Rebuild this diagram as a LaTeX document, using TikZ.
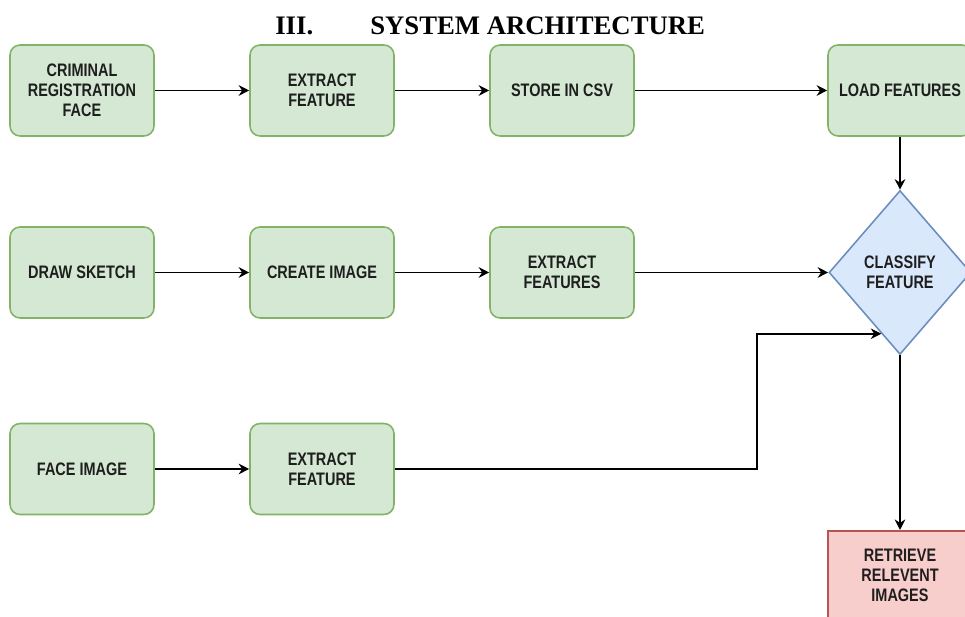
\documentclass[tikz,border=0pt]{standalone}
\usepackage{fontspec}
\setmainfont{Liberation Serif}
\newfontfamily\boxfont{Liberation Sans}[FakeStretch=0.8]
\usepackage{tikz}
\usetikzlibrary{shapes.geometric, arrows.meta, calc}
\definecolor{boxGreen}{RGB}{213, 232, 212}
\definecolor{lineGreen}{RGB}{130, 179, 102}
\definecolor{boxBlue}{RGB}{218, 232, 252}
\definecolor{lineBlue}{RGB}{108, 142, 191}
\definecolor{boxRed}{RGB}{248, 206, 204}
\definecolor{lineRed}{RGB}{184, 84, 80}
\definecolor{inkGray}{RGB}{30, 30, 30}

\begin{document}
\begin{tikzpicture}[x=0.02cm, y=-0.02cm,
    stage/.style={draw=lineGreen, fill=boxGreen, line width=0.9pt, rounded corners=0.2cm,
      minimum width=2.88cm, minimum height=1.82cm, align=center, text=inkGray,
      font=\boxfont\bfseries\fontsize{10.3}{11.4}\selectfont},
    decide/.style={diamond, draw=lineBlue, fill=boxBlue, line width=0.9pt, inner sep=0pt,
      minimum width=2.84cm, minimum height=3.28cm, align=center, text=inkGray,
      font=\boxfont\bfseries\fontsize{10.3}{11.4}\selectfont},
    result/.style={draw=lineRed, fill=boxRed, line width=0.9pt,
      minimum width=2.88cm, minimum height=1.8cm, align=center, text=inkGray,
      font=\boxfont\bfseries\fontsize{10.3}{11.4}\selectfont},
    arr/.style={-{Stealth[length=6pt, width=6pt]}, line width=0.9pt}]
      \useasboundingbox (0,0) rectangle (965,617);
      \clip (0,0) rectangle (965,617);

      \node[anchor=base west, inner sep=0pt, font=\bfseries\fontsize{15.2}{18}\selectfont] (num) at (275,35) {III.};
      \node[anchor=base west, inner sep=0pt, font=\bfseries\fontsize{15.2}{18}\selectfont] (title) at (370,35) {SYSTEM ARCHITECTURE};

      % first row
      \node[stage] (crim) at (82,90.5) {CRIMINAL\\REGISTRATION\\FACE};
      \node[stage] (ext1) at (322,90.5) {EXTRACT\\FEATURE};
      \node[stage] (csv) at (562,90.5) {STORE IN CSV};
      \node[stage] (load) at (900,90.5) {LOAD FEATURES};

      % second row
      \node[stage] (sketch) at (82,272.5) {DRAW SKETCH};
      \node[stage] (create) at (322,272.5) {CREATE IMAGE};
      \node[stage] (ext2) at (562,272.5) {EXTRACT\\FEATURES};
      \node[decide] (classify) at (900,272.5) {CLASSIFY\\FEATURE};

      % third row
      \node[stage] (face) at (82,469) {FACE IMAGE};
      \node[stage] (ext3) at (322,469) {EXTRACT\\FEATURE};
      \node[result, anchor=north] (retrieve) at (900,530) {RETRIEVE\\RELEVENT\\IMAGES};

      \draw[arr] (crim) -- (ext1);
      \draw[arr] (ext1) -- (csv);
      \draw[arr] (csv) -- (load);
      \draw[arr] (load) -- (classify);

      \draw[arr] (sketch) -- (create);
      \draw[arr] (create) -- (ext2);
      \draw[arr] (ext2) -- (classify);

      \draw[arr] (face) -- (ext3);
      \draw[arr] (ext3.east) -- (757,469) |- ($(classify.west)!0.74!(classify.south)$);
      \draw[arr] (classify) -- (retrieve);
    \end{tikzpicture}
\end{document}
